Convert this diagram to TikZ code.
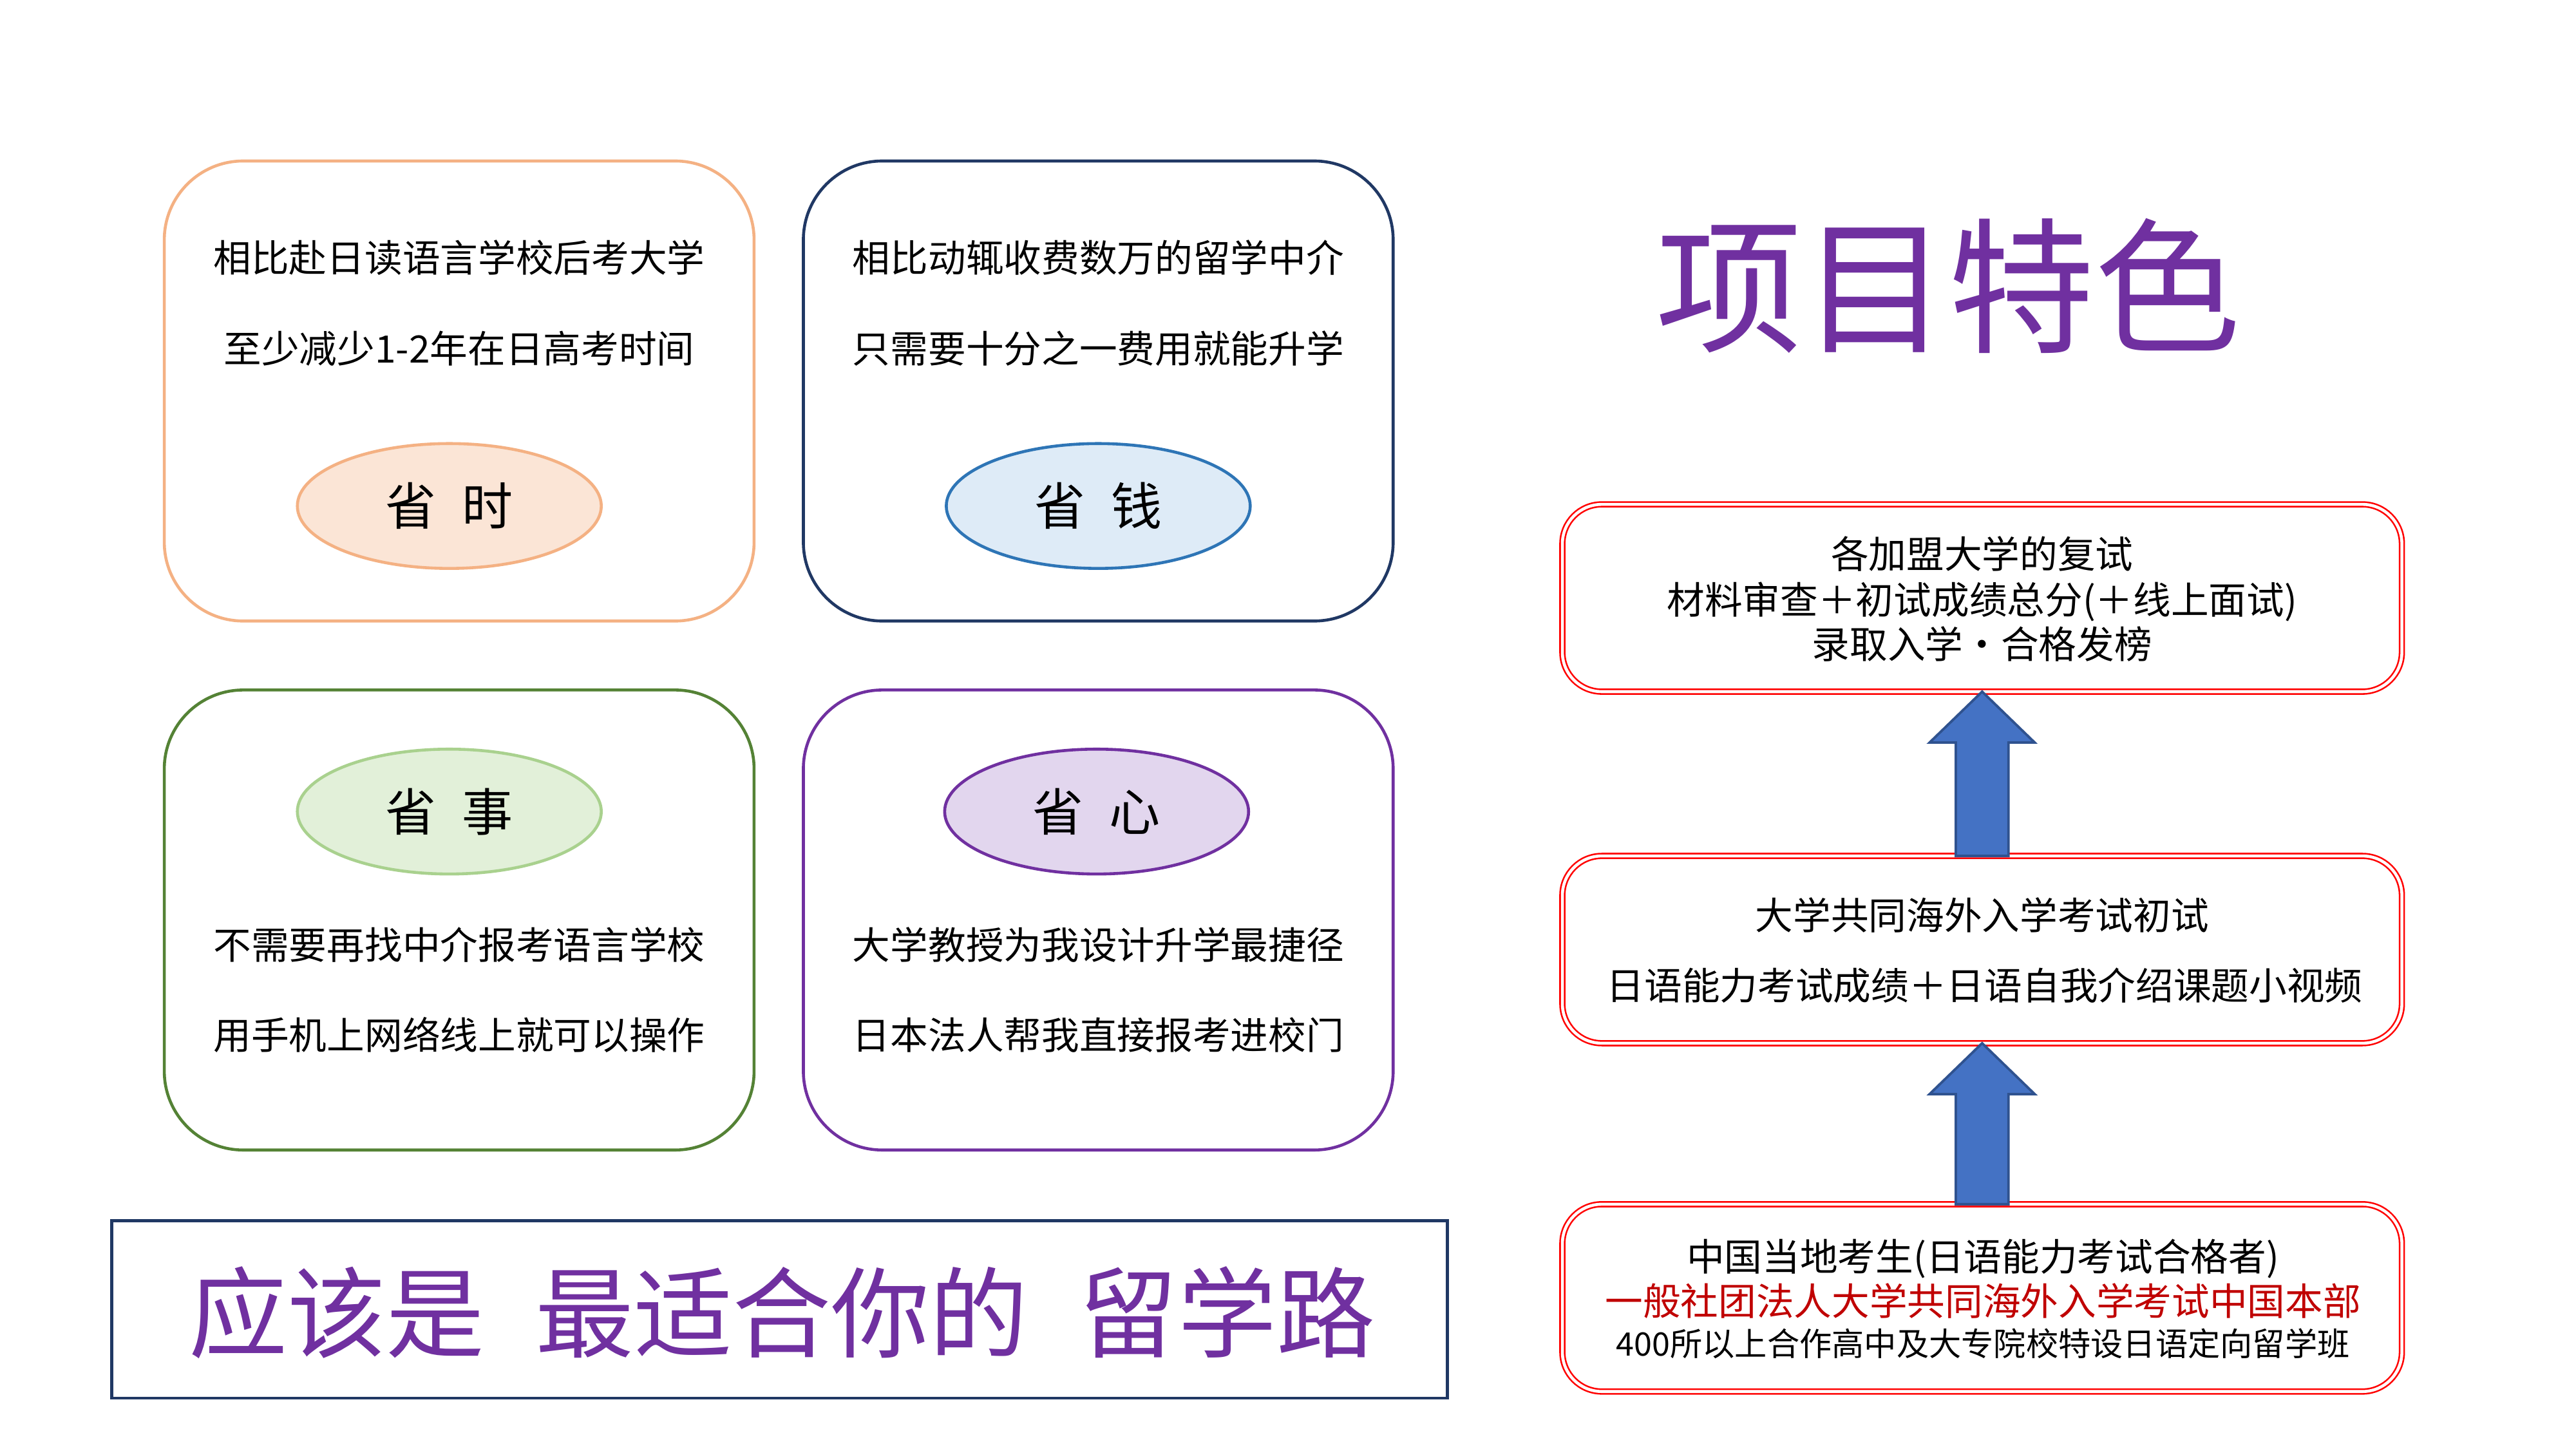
\documentclass[tikz,border=0pt]{standalone}
\usepackage{fontspec}
\setmainfont{Noto Sans CJK SC}
\usetikzlibrary{calc,shapes.geometric}
\definecolor{orangeB}{HTML}{F4B183}
\definecolor{orangeF}{HTML}{FBE5D6}
\definecolor{navyB}{HTML}{203864}
\definecolor{blueB}{HTML}{2E75B6}
\definecolor{blueF}{HTML}{DEEBF7}
\definecolor{greenB}{HTML}{548235}
\definecolor{greenL}{HTML}{A9D18E}
\definecolor{greenF}{HTML}{E2F0D9}
\definecolor{purp}{HTML}{7030A0}
\definecolor{purpF}{HTML}{E2D6EE}
\definecolor{darkred}{HTML}{C00000}
\definecolor{redL}{HTML}{FF0000}
\definecolor{arrowF}{HTML}{4472C4}
\definecolor{arrowB}{HTML}{2F528F}
\tikzset{
  card/.style={draw, rounded corners=48pt, line width=1.8pt, minimum width=359pt, minimum height=280pt, inner sep=0pt, outer sep=0pt},
  oval/.style={ellipse, draw, line width=1.8pt, minimum width=185pt, minimum height=76pt, inner sep=0pt,
    font=\fontsize{31}{36}\selectfont, text height=25.7pt, text depth=2.2pt},
  cardtxt/.style={inner sep=0pt, font=\fontsize{23}{28}\selectfont, text height=19.1pt, text depth=1.6pt},
  smalltxt/.style={inner sep=0pt, font=\fontsize{19.7}{24}\selectfont, text height=16.4pt, text depth=1.4pt},
  redbox/.style={draw=redL, double=white, double distance=1.8pt, line width=1pt, rounded corners=24pt,
    minimum width=511pt, minimum height=114pt, inner sep=0pt, outer sep=0pt},
  blockarrow/.style={fill=arrowF, draw=arrowB, line width=1.5pt, line join=miter},
  titletxt/.style={inner sep=0pt, text=purp, font=\fontsize{89}{97}\selectfont, text height=73.9pt, text depth=6.2pt},
  slogantxt/.style={inner sep=0pt, text=purp, font=\fontsize{60}{66}\selectfont, text height=49.8pt, text depth=4.2pt},
  slogbox/.style={draw=navyB, line width=1.8pt, minimum width=813pt, minimum height=108pt, inner sep=0pt, outer sep=0pt}
}
\begin{document}
\begin{tikzpicture}[x=1pt,y=-1pt]
\useasboundingbox[fill=white] (0,0) rectangle (1568,882);

% four cards
\node[card, draw=orangeB] (c1) at (279.5,238) {};
\node[card, draw=navyB] (c2) at (668.5,238) {};
\node[card, draw=greenB] (c3) at (279.5,560) {};
\node[card, draw=purp] (c4) at (668.5,560) {};

\node[cardtxt] (c1a) at (279.5,157) {相比赴日读语言学校后考大学};
\node[cardtxt] (c1b) at (279.5,212) {至少减少1-2年在日高考时间};
\node[oval, draw=orangeB, fill=orangeF] (e1) at (273.5,308) {省\hspace{0.5em}时};

\node[cardtxt] (c2a) at (668.5,157) {相比动辄收费数万的留学中介};
\node[cardtxt] (c2b) at (668.5,212) {只需要十分之一费用就能升学};
\node[oval, draw=blueB, fill=blueF] (e2) at (668.5,308) {省\hspace{0.5em}钱};

\node[oval, draw=greenL, fill=greenF] (e3) at (273.5,494) {省\hspace{0.5em}事};
\node[cardtxt] (c3a) at (279.5,575) {不需要再找中介报考语言学校};
\node[cardtxt] (c3b) at (279.5,630) {用手机上网络线上就可以操作};

\node[oval, draw=purp, fill=purpF] (e4) at (667.5,494) {省\hspace{0.5em}心};
\node[cardtxt] (c4a) at (668.5,575) {大学教授为我设计升学最捷径};
\node[cardtxt] (c4b) at (668.5,630) {日本法人帮我直接报考进校门};

% slogan
\node[slogbox] (sb) at (474.5,797) {};
\node[slogantxt] (sl) at (476,799) {应该是\hspace{31pt}最适合你的\hspace{31pt}留学路};

% title
\node[titletxt] (ttl) at (1186,174) {项目特色};

% right flow boxes
\node[redbox] (bA) at (1206.5,364) {};
\node[redbox] (bB) at (1206.5,578) {};
\node[redbox] (bC) at (1206.5,790) {};

\node[cardtxt] (a1) at (1206.5,337) {各加盟大学的复试};
\node[cardtxt] (a2) at (1206.5,365) {材料审查＋初试成绩总分(＋线上面试)};
\node[cardtxt] (a3) at (1206.5,392) {录取入学・合格发榜};

\node[cardtxt] (b1) at (1206.5,557) {大学共同海外入学考试初试};
\node[cardtxt] (b2) at (1208,600) {日语能力考试成绩＋日语自我介绍课题小视频};

\node[cardtxt] (k1) at (1207,765) {中国当地考生(日语能力考试合格者)};
\node[cardtxt, text=darkred] (k2) at (1207,792) {一般社团法人大学共同海外入学考试中国本部};
\node[smalltxt] (k3) at (1207,818) {400所以上合作高中及大专院校特设日语定向留学班};

% block arrows
\draw[blockarrow] ($(bB.north)+(-16,0)$) -- ($(bA.south)+(-16,31)$) -- ($(bA.south)+(-32,31)$)
  -- (bA.south) -- ($(bA.south)+(32,31)$) -- ($(bA.south)+(16,31)$) -- ($(bB.north)+(16,0)$) -- cycle;
\draw[blockarrow] ($(bC.north)+(-16,0)$) -- ($(bB.south)+(-16,31)$) -- ($(bB.south)+(-32,31)$)
  -- (bB.south) -- ($(bB.south)+(32,31)$) -- ($(bB.south)+(16,31)$) -- ($(bC.north)+(16,0)$) -- cycle;
\end{tikzpicture}
\end{document}
